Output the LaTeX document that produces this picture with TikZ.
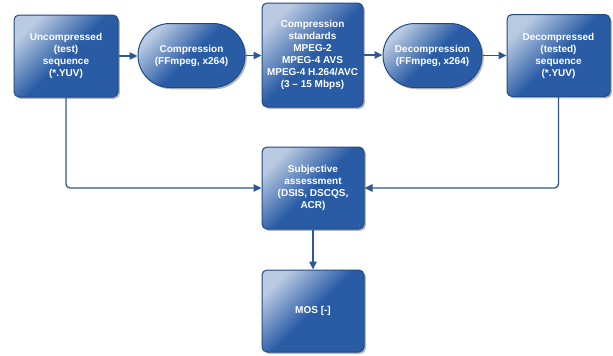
\documentclass[tikz,border=0pt]{standalone}
\usepackage{fontspec}
\setmainfont{Liberation Sans}
\usetikzlibrary{shapes.misc,shadows,arrows.meta}
\definecolor{boxlight}{HTML}{B9CAE2}
\definecolor{boxdark}{HTML}{2A5CA6}
\definecolor{boxedge}{HTML}{1E4A86}
\definecolor{linkc}{HTML}{2D5895}
\tikzset{
  blockbase/.style={draw=boxedge, line width=1pt,
    left color=boxlight, right color=boxdark, middle color=boxdark,
    shading angle=45,
    drop shadow={shadow xshift=1.8pt, shadow yshift=-1.8pt, fill=black, opacity=0.28},
    text=white, font=\fontsize{10}{12}\selectfont\bfseries, align=center, inner sep=0pt},
  block/.style={blockbase, rectangle, rounded corners=5pt},
  pill/.style={blockbase, rounded rectangle, rounded rectangle arc length=180},
  link/.style={draw=linkc, line width=1.3pt, -{Triangle[length=8pt,width=7.5pt]}}
}
\begin{document}
\begin{tikzpicture}[x=1pt,y=-1pt]
\useasboundingbox (0,0) rectangle (613,356);
\node[block, minimum width=104pt, minimum height=82pt] (u) at (66,56) {Uncompressed\\(test)\\sequence\\(*.YUV)};
\node[pill, minimum width=107pt, minimum height=64pt] (comp) at (191.5,55.5) {Compression\\(FFmpeg, x264)};
\node[block, minimum width=101pt, minimum height=104pt] (std) at (312.5,55) {Compression\\standards\\MPEG-2\\MPEG-4 AVS\\MPEG-4 H.264/AVC\\(3 – 15 Mbps)};
\node[pill, minimum width=99pt, minimum height=64pt] (dec) at (432.5,55.5) {Decompression\\(FFmpeg, x264)};
\node[block, minimum width=103pt, minimum height=82pt] (dd) at (558.5,55.5) {Decompressed\\(tested)\\sequence\\(*.YUV)};
\node[block, minimum width=102pt, minimum height=82pt] (subj) at (313,188) {Subjective\\assessment\\(DSIS, DSCQS,\\ACR)};
\node[block, minimum width=102pt, minimum height=82pt] (mos) at (313,311) {MOS [-]};
\draw[link] (u.east) -- (u.east -| comp.west);
\draw[link] (comp.east) -- (comp.east -| std.west);
\draw[link] (std.east) -- (std.east -| dec.west);
\draw[link] (dec.east) -- (dec.east -| dd.west);
\draw[link, rounded corners=4pt] (u.south) |- (subj.west);
\draw[link, rounded corners=4pt] (dd.south) |- (subj.east);
\draw[link] (subj.south) -- (mos.north);
\end{tikzpicture}
\end{document}
